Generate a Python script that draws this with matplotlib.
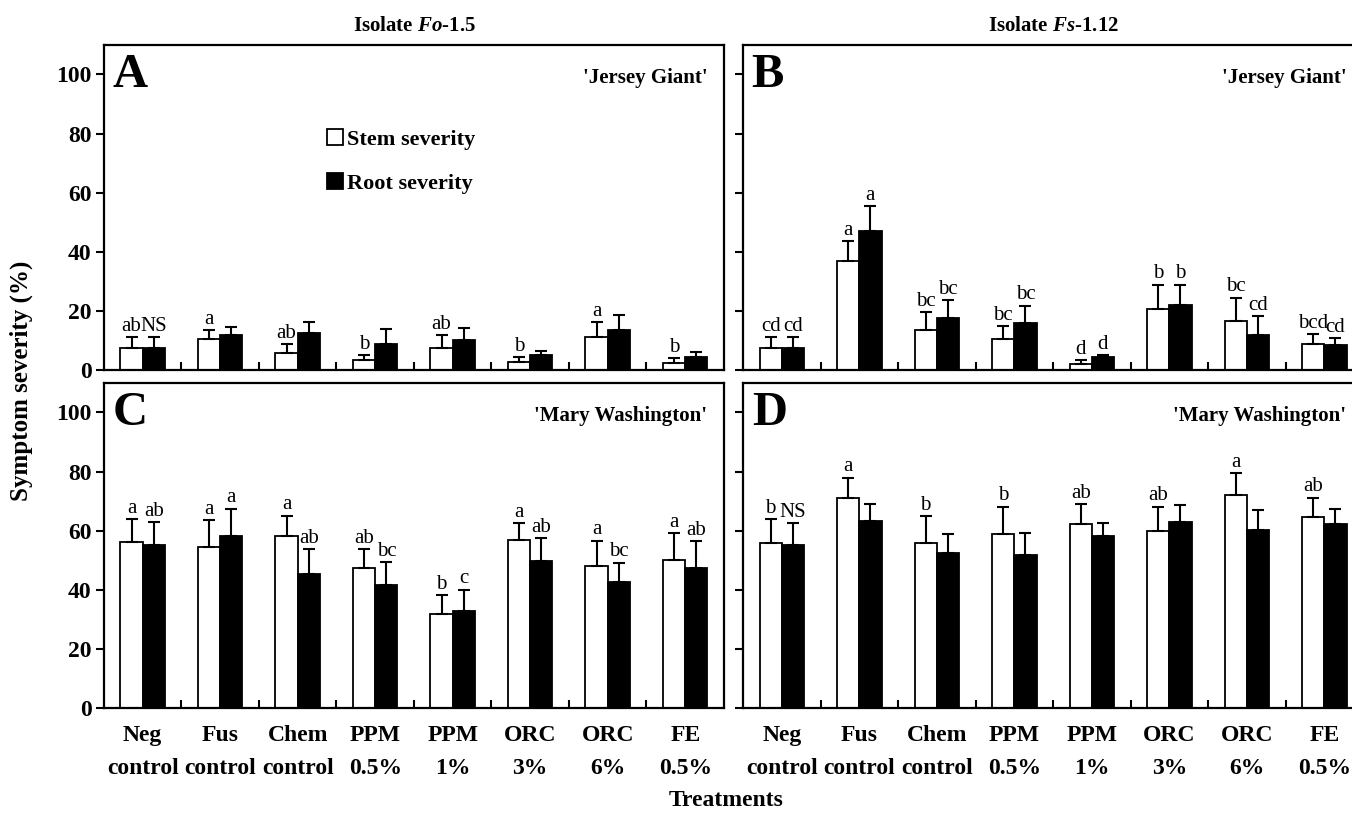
import numpy as np
import matplotlib.pyplot as plt
from matplotlib.ticker import FixedLocator

plt.rcParams['font.family'] = ['Liberation Serif', 'DejaVu Serif']
plt.rcParams['font.weight'] = 'bold'
plt.rcParams['mathtext.fontset'] = 'custom'
plt.rcParams['mathtext.rm'] = 'Liberation Serif:bold'
plt.rcParams['mathtext.it'] = 'Liberation Serif:italic:bold'

treatments = ['Neg\ncontrol', 'Fus\ncontrol', 'Chem\ncontrol', 'PPM\n0.5%',
              'PPM\n1%', 'ORC\n3%', 'ORC\n6%', 'FE\n0.5%']

# A: isolate Fo-1.5, 'Jersey Giant'
a_stem = [7.3, 10.4, 5.7, 3.3, 7.3, 2.8, 11.0, 2.4]
a_stem_err = [3.8, 3.1, 3.0, 1.6, 4.4, 1.5, 5.2, 1.5]
a_root = [7.3, 11.9, 12.6, 8.9, 10.1, 4.9, 13.5, 4.5]
a_root_err = [3.8, 2.8, 3.6, 5.1, 4.1, 1.4, 5.2, 1.5]
a_stem_let = ['ab', 'a', 'ab', 'b', 'ab', 'b', 'a', 'b']
a_root_let = ['NS', '', '', '', '', '', '', '']

# B: isolate Fs-1.12, 'Jersey Giant'
b_stem = [7.3, 36.7, 13.4, 10.4, 2.1, 20.5, 16.5, 8.7]
b_stem_err = [3.8, 6.8, 6.1, 4.4, 1.3, 8.3, 7.9, 3.4]
b_root = [7.3, 46.9, 17.5, 15.9, 4.3, 22.0, 11.9, 8.4]
b_root_err = [3.8, 8.5, 6.2, 5.8, 0.8, 6.8, 6.3, 2.3]
b_stem_let = ['cd', 'a', 'bc', 'bc', 'd', 'b', 'bc', 'bcd']
b_root_let = ['cd', 'a', 'bc', 'bc', 'd', 'b', 'cd', 'cd']

# C: isolate Fo-1.5, 'Mary Washington'
c_stem = [56.2, 54.5, 58.3, 47.2, 31.8, 56.7, 48.0, 50.2]
c_stem_err = [7.7, 9.0, 6.8, 6.6, 6.3, 5.9, 8.6, 8.9]
c_root = [55.3, 58.3, 45.4, 41.6, 32.7, 49.8, 42.5, 47.2]
c_root_err = [7.5, 9.1, 8.3, 7.8, 7.3, 7.6, 6.7, 9.3]
c_stem_let = ['a', 'a', 'a', 'ab', 'b', 'a', 'a', 'a']
c_root_let = ['ab', 'a', 'ab', 'bc', 'c', 'ab', 'bc', 'ab']

# D: isolate Fs-1.12, 'Mary Washington'
d_stem = [55.9, 71.2, 55.9, 58.8, 62.1, 60.0, 72.0, 64.5]
d_stem_err = [7.9, 6.7, 9.0, 9.3, 6.9, 8.1, 7.4, 6.7]
d_root = [55.1, 63.3, 52.3, 51.6, 58.1, 62.8, 60.1, 62.3]
d_root_err = [7.5, 5.6, 6.7, 7.7, 4.5, 5.9, 6.8, 5.0]
d_stem_let = ['b', 'a', 'b', 'b', 'ab', 'ab', 'a', 'ab']
d_root_let = ['NS', '', '', '', '', '', '', '']

fig = plt.figure(figsize=(13.52, 8.18), dpi=100)
W, H = 0.4586, 0.3975
axA = fig.add_axes([0.0769, 0.5477, W, H])
axB = fig.add_axes([0.5496, 0.5477, W, H])
axC = fig.add_axes([0.0769, 0.1345, W, H])
axD = fig.add_axes([0.5496, 0.1345, W, H])

x = np.arange(len(treatments))
w = 0.287


def panel(ax, stem, stem_err, root, root_err, stem_let, root_let, letter, cultivar):
    z = np.zeros(len(stem))
    b1 = ax.bar(x - w / 2, stem, w, color='white', edgecolor='black', linewidth=1.3,
                label='Stem severity', zorder=2)
    b2 = ax.bar(x + w / 2, root, w, color='black', edgecolor='black', linewidth=1.3,
                label='Root severity', zorder=2)
    ax.errorbar(x - w / 2, stem, yerr=[z, stem_err], fmt='none', ecolor='black',
                elinewidth=1.5, capsize=4.5, capthick=1.5, zorder=3)
    ax.errorbar(x + w / 2, root, yerr=[z, root_err], fmt='none', ecolor='black',
                elinewidth=1.5, capsize=4.5, capthick=1.5, zorder=3)
    for i in range(len(stem)):
        if stem_let[i]:
            ax.annotate(stem_let[i], (x[i] - w / 2, stem[i] + stem_err[i]), xytext=(0, 1),
                        textcoords='offset points', ha='center', va='bottom',
                        fontsize=15, fontweight='normal')
        if root_let[i]:
            ax.annotate(root_let[i], (x[i] + w / 2, root[i] + root_err[i]), xytext=(0, 1),
                        textcoords='offset points', ha='center', va='bottom',
                        fontsize=15, fontweight='normal')
    ax.set_xlim(-0.5, 7.5)
    ax.set_ylim(0, 110)
    ax.set_yticks(range(0, 101, 20))
    ax.set_xticks(x)
    ax.xaxis.set_minor_locator(FixedLocator(x[:-1] + 0.5))
    ax.tick_params(axis='x', which='major', length=0, pad=12, labelsize=17)
    ax.tick_params(axis='x', which='minor', direction='in', length=6, width=1.5)
    ax.tick_params(axis='y', direction='out', length=6, width=1.5, labelsize=17, pad=3)
    for s in ax.spines.values():
        s.set_linewidth(1.6)
    ax.text(0.014, 0.975, letter, transform=ax.transAxes, ha='left', va='top',
            fontsize=35, fontweight='bold')
    ax.text(0.973, 0.93, cultivar, transform=ax.transAxes, ha='right', va='top',
            fontsize=15, fontweight='bold')
    return b1, b2


h1, h2 = panel(axA, a_stem, a_stem_err, a_root, a_root_err, a_stem_let, a_root_let,
               'A', "'Jersey Giant'")
panel(axB, b_stem, b_stem_err, b_root, b_root_err, b_stem_let, b_root_let,
      'B', "'Jersey Giant'")
panel(axC, c_stem, c_stem_err, c_root, c_root_err, c_stem_let, c_root_let,
      'C', "'Mary Washington'")
panel(axD, d_stem, d_stem_err, d_root, d_root_err, d_stem_let, d_root_let,
      'D', "'Mary Washington'")

for ax in (axA, axB):
    ax.set_xticklabels([])
for ax in (axC, axD):
    ax.set_xticklabels(treatments, linespacing=1.75)
for ax in (axB, axD):
    ax.set_yticklabels([])

axA.legend(handles=[h1, h2], loc='upper left', bbox_to_anchor=(0.36, 0.74),
           frameon=False, handlelength=0.7, handleheight=0.7, handletextpad=0.2,
           labelspacing=1.05, borderpad=0, borderaxespad=0,
           prop={'family': 'Liberation Serif', 'weight': 'bold', 'size': 16})

axA.set_title(r'Isolate $\mathit{Fo}$-1.5', fontsize=15, fontweight='bold', pad=10)
axB.set_title(r'Isolate $\mathit{Fs}$-1.12', fontsize=15, fontweight='bold', pad=10)

fig.text(0.016, 0.535, 'Symptom severity (%)', rotation=90, ha='center', va='center',
         fontsize=18, fontweight='bold')
fig.text(0.537, 0.022, 'Treatments', ha='center', va='center',
         fontsize=17, fontweight='bold')

fig.savefig('out.png', dpi=100)
